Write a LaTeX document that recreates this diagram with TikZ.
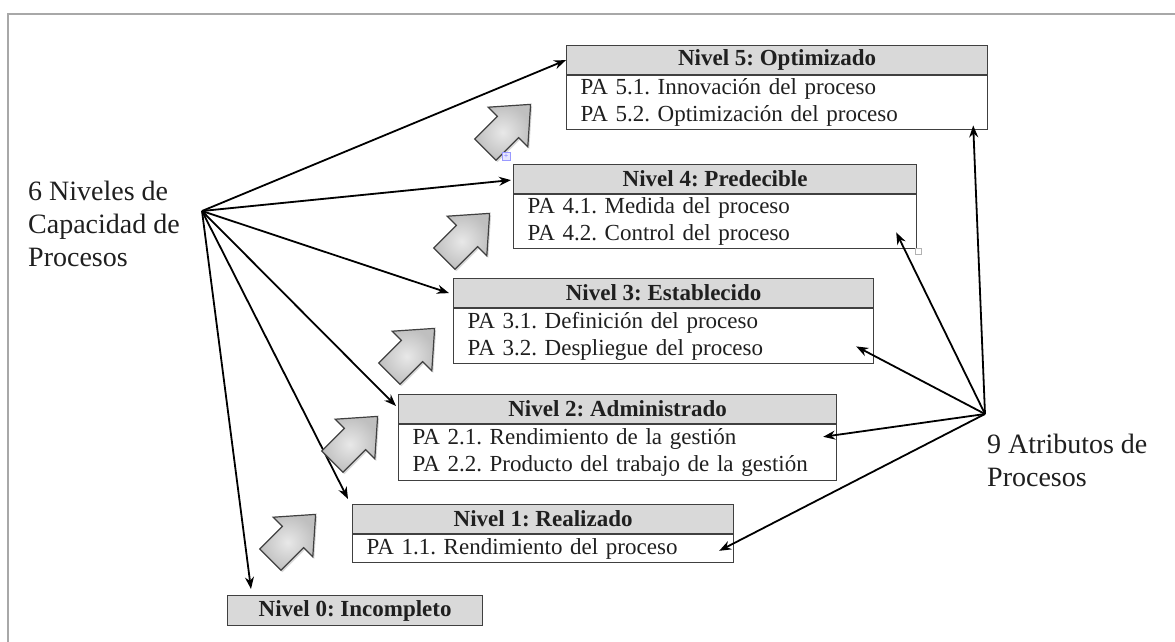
\documentclass[tikz,border=0pt]{standalone}
\usepackage{fontspec}
\setmainfont{Liberation Serif}
\usetikzlibrary{arrows.meta,calc,shadows}
\definecolor{hdrgray}{HTML}{D9D9D9}
\definecolor{boxline}{HTML}{404040}
\definecolor{framegray}{HTML}{A8A8A8}
\definecolor{txt}{HTML}{1F1F1F}
\frenchspacing

\begin{document}
\begin{tikzpicture}[x=1pt,y=-1pt,
  hdr/.style={draw=boxline, fill=hdrgray, line width=1.2pt, anchor=north west,
    inner sep=0pt, minimum height=29pt, font=\bfseries\fontsize{23}{27}\selectfont, text=txt},
  body/.style={draw=boxline, line width=1.2pt, anchor=north west, inner xsep=14pt,
    inner ysep=0pt, align=left, font=\fontsize{23}{27}\selectfont, text=txt},
  biglabel/.style={anchor=north west, inner sep=0pt, align=left,
    font=\fontsize{28}{33}\selectfont, text=txt},
  conn/.style={line width=1.8pt, draw=black, -{Stealth[length=12pt,width=9pt]}},
  blockfill/.style={draw=black!75, line width=1.2pt, inner color=gray!18, outer color=gray!50,
    drop shadow={shadow xshift=1.5pt, shadow yshift=-2pt, opacity=0.3}},
  blockarrow/.pic={
    \path[blockfill] (-32,-15) -- (0,-15) -- (0,-28) -- (32,0) -- (0,28) -- (0,15) -- (-32,15) -- cycle;
  }
]
\useasboundingbox (0,0) rectangle (1175,642);

% page frame
\draw[framegray, line width=2pt] (8,642) -- (8,14) -- (1175,14);

% capability levels
\node[hdr, minimum width=421pt] (n5h) at (566,45) {Nivel 5: Optimizado};
\node[body, text width=393pt, minimum height=54pt] (n5b) at (n5h.south west)
  {PA 5.1. Innovación del proceso\\PA 5.2. Optimización del proceso};

\node[hdr, minimum width=403pt] (n4h) at (513,164) {Nivel 4: Predecible};
\node[body, text width=375pt, minimum height=54pt] (n4b) at (n4h.south west)
  {PA 4.1. Medida del proceso\\PA 4.2. Control del proceso};

\node[hdr, minimum width=420pt] (n3h) at (453,278) {Nivel 3: Establecido};
\node[body, text width=392pt, minimum height=55pt] (n3b) at (n3h.south west)
  {PA 3.1. Definición del proceso\\PA 3.2. Despliegue del proceso};

\node[hdr, minimum width=438pt] (n2h) at (398,394) {Nivel 2: Administrado};
\node[body, text width=410pt, minimum height=56pt] (n2b) at (n2h.south west)
  {PA 2.1. Rendimiento de la gestión\\PA 2.2. Producto del trabajo de la gestión};

\node[hdr, minimum width=381pt] (n1h) at (352,504) {Nivel 1: Realizado};
\node[body, text width=353pt, minimum height=28pt] (n1b) at (n1h.south west)
  {PA 1.1. Rendimiento del proceso};

\node[hdr, minimum width=255pt, minimum height=30pt] (n0) at (227,595) {Nivel 0: Incompleto};

% side labels
\node[biglabel] (capL) at (28,181) {6 Niveles de\\Capacidad de\\Procesos};
\node[biglabel] (attrL) at (987,434) {9 Atributos de\\Procesos};

\coordinate (hubL) at (202,211);
\coordinate (hubR) at (985,414);

% levels fan
\draw[conn] (hubL) -- (n5h.west);
\draw[conn] (hubL) -- ($(n4h.west)+(-2,1)$);
\draw[conn] (hubL) -- ($(n3h.west)+(-4,0)$);
\draw[conn] (hubL) -- ($(n2h.north west)+(-2,12)$);
\draw[conn] (hubL) -- ($(n1h.north west)+(-4,-5)$);
\draw[conn] (hubL) -- ($(n0.north west)+(24,-6)$);

% attributes fan
\draw[conn] (hubR) -- ($(n5b.south east)+(-15,-5)$);
\draw[conn] (hubR) -- ($(n4b.south east)+(-21,-17)$);
\draw[conn] (hubR) -- ($(n3b.south east)+(-18,-18)$);
\draw[conn] (hubR) -- ($(n2b.east)+(-14,-16)$);
\draw[conn] (hubR) -- ($(n1b.east)+(-15,2)$);

% step-up arrows
\path (293,537) pic[rotate=45] {blockarrow};
\path (355,439) pic[rotate=45] {blockarrow};
\path (412,351) pic[rotate=45] {blockarrow};
\path (467,236) pic[rotate=45] {blockarrow};
\path (508,127) pic[rotate=45] {blockarrow};

% editor handles
\node[draw=blue!40, fill=blue!10, minimum size=8pt, inner sep=0pt,
  font=\fontsize{8}{8}\selectfont, text=blue!60] (mv) at (506,156) {+};
\node[draw=gray!60, minimum size=6pt, inner sep=0pt] (hdl) at (918,251) {};
\end{tikzpicture}
\end{document}
